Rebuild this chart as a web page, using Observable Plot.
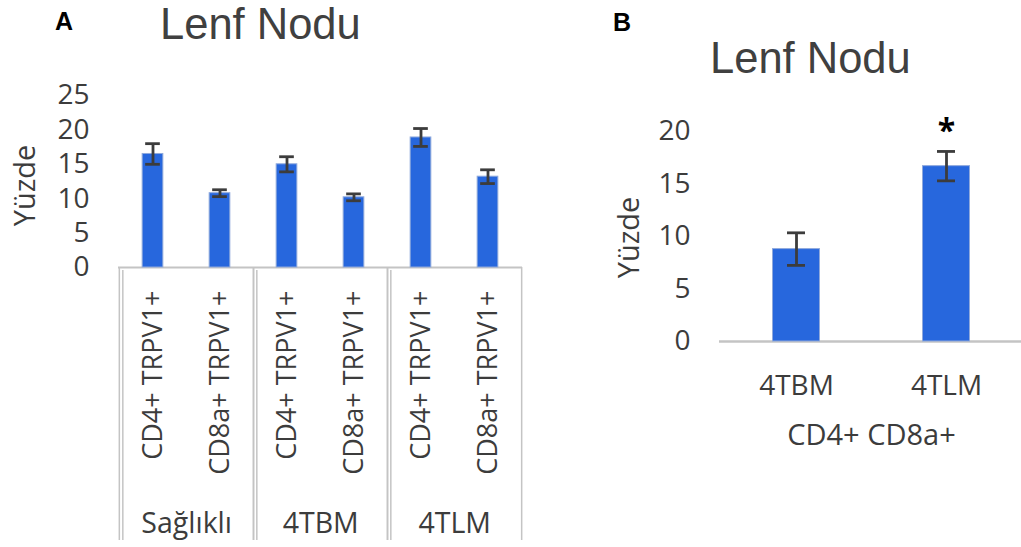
<!DOCTYPE html>
<html>
<head>
<meta charset="utf-8">
<script src="https://cdn.jsdelivr.net/npm/d3@7"></script>
<script src="https://cdn.jsdelivr.net/npm/@observablehq/plot@0.6"></script>
<style>
  body { margin: 0; background: #fff; }
  #wrap { position: relative; width: 1021px; height: 547px; overflow: hidden; background: #fff; font-family: "Open Sans", sans-serif; }
  .panel { position: absolute; top: 0; }
  .title { position: absolute; color: #404040; font-size: 43.5px; line-height: 1; white-space: nowrap; font-family: "Liberation Sans", Arial, sans-serif; }
  .letter { position: absolute; color: #000; font-size: 25px; line-height: 1; font-weight: bold; font-family: "Liberation Sans", Arial, sans-serif; }
</style>
</head>
<body>
<div id="wrap">
  <div class="letter" id="letterA" style="left:55px;top:9px;">A</div>
  <div class="letter" id="letterB" style="left:613px;top:10px;">B</div>
  <div class="title" id="titleA" style="left:160px;top:3px;">Lenf Nodu</div>
  <div class="title" id="titleB" style="left:710px;top:37px;">Lenf Nodu</div>
  <div class="panel" id="panelA" style="left:0px;"></div>
  <div class="panel" id="panelB" style="left:600px;"></div>
</div>
<script>
// ---------- Data: panel A ----------
const groupOrderA = ["Sağlıklı", "4TBM", "4TLM"];
const groupsA  = ["Sağlıklı", "Sağlıklı", "4TBM", "4TBM", "4TLM", "4TLM"];
const markersA = ["CD4+ TRPV1+", "CD8a+ TRPV1+", "CD4+ TRPV1+", "CD8a+ TRPV1+", "CD4+ TRPV1+", "CD8a+ TRPV1+"];
const valuesA  = [16.5, 10.8, 15.0, 10.2, 18.9, 13.2];
const errorsA  = [1.5, 0.5, 1.1, 0.5, 1.3, 1.0];
const ticksA   = [0, 5, 10, 15, 20, 25];

// ---------- Data: panel B ----------
const categoriesB = ["4TBM", "4TLM"];
const valuesB     = [8.8, 16.7];
const errorsB     = [1.55, 1.4];
const signifB     = ["", "*"];
const ticksB      = [0, 5, 10, 15, 20];

const yLabel = "Yüzde";
const xLabelB = "CD4+ CD8a+";

const TEXT = "#3c3c3c";
const BAR = "#2767dd";
const BAR_EDGE = "#8fa9dc";
const GRID = "#c4c4c4";
const FONT = "'Open Sans', sans-serif";

// ---------- Panel A ----------
const dataA = groupsA.map((g, i) => ({
  key: g + "|" + markersA[i], group: g, marker: markersA[i], value: valuesA[i], err: errorsA[i]
}));
const A = { width: 540, height: 547, ml: 118, mr: 18, mt: 95, mb: 280 };
const bandA = (A.width - A.ml - A.mr) / dataA.length;
const frameHA = A.height - A.mt - A.mb;
const firstKey = g => dataA.find(d => d.group === g).key;
const lastKey = g => dataA.filter(d => d.group === g).slice(-1)[0].key;
const boxBottomA = 273;
const barWA = 21, capWA = 15;

const plotA = Plot.plot({
  width: A.width, height: A.height,
  marginLeft: A.ml, marginRight: A.mr, marginTop: A.mt, marginBottom: A.mb,
  style: { fontFamily: FONT, color: TEXT, background: "transparent", overflow: "visible" },
  x: { domain: dataA.map(d => d.key), padding: 0 },
  y: { domain: [0, 25] },
  marks: [
    Plot.axisY({ ticks: ticksA, tickSize: 0, tickPadding: 29, fontSize: 28, label: null, fill: TEXT }),
    Plot.text([yLabel], { text: d => d, frameAnchor: "left", textAnchor: "middle", lineAnchor: "middle",
                          dx: -93, dy: 4, rotate: -90, fontSize: 29, fill: TEXT }),
    Plot.axisX({ tickFormat: k => k.split("|")[1], rotate: -90, textAnchor: "end", lineAnchor: "middle",
                 tickSize: 0, tickPadding: 23, fontSize: 27, label: null, fill: TEXT }),
    Plot.text(groupOrderA, { x: firstKey, text: d => d, frameAnchor: "bottom", dx: bandA / 2, dy: 256,
                             lineAnchor: "middle", fontSize: 28.5, fill: TEXT }),
    // group boxes
    Plot.ruleX(groupOrderA, { x: firstKey, dx: -bandA / 2, insetTop: frameHA, insetBottom: -boxBottomA, stroke: GRID, strokeWidth: 1.5 }),
    Plot.ruleX(groupOrderA, { x: firstKey, dx: -bandA / 2 + 3.5, insetTop: frameHA + 3, insetBottom: -boxBottomA, stroke: GRID, strokeWidth: 1.5 }),
    Plot.ruleX(groupOrderA, { x: lastKey, dx: bandA / 2, insetTop: frameHA, insetBottom: -boxBottomA, stroke: GRID, strokeWidth: 1.5 }),
    Plot.ruleY([0], { stroke: GRID, strokeWidth: 2 }),
    Plot.barY(dataA, { x: "key", y: "value", fill: BAR, stroke: BAR_EDGE, strokeWidth: 1,
                       insetLeft: (bandA - barWA) / 2, insetRight: (bandA - barWA) / 2 }),
    Plot.ruleX(dataA, { x: "key", y1: d => d.value - d.err, y2: d => d.value + d.err, stroke: TEXT, strokeWidth: 2.8 }),
    Plot.tickY(dataA, { x: "key", y: d => d.value + d.err, stroke: TEXT, strokeWidth: 2.8,
                        insetLeft: (bandA - capWA) / 2, insetRight: (bandA - capWA) / 2 }),
    Plot.tickY(dataA, { x: "key", y: d => d.value - d.err, stroke: TEXT, strokeWidth: 2.8,
                        insetLeft: (bandA - capWA) / 2, insetRight: (bandA - capWA) / 2 })
  ]
});
document.getElementById("panelA").appendChild(plotA);

// ---------- Panel B ----------
const dataB = categoriesB.map((c, i) => ({ cat: c, value: valuesB[i], err: errorsB[i], sig: signifB[i] }));
const B = { width: 421, height: 547, ml: 121, mr: 0, mt: 131, mb: 206 };
const bandB = (B.width - B.ml - B.mr) / dataB.length;
const barWB = 47, capWB = 18;

const plotB = Plot.plot({
  width: B.width, height: B.height,
  marginLeft: B.ml, marginRight: B.mr, marginTop: B.mt, marginBottom: B.mb,
  style: { fontFamily: FONT, color: TEXT, background: "transparent", overflow: "visible" },
  x: { domain: categoriesB, padding: 0 },
  y: { domain: [0, 20] },
  marks: [
    Plot.axisY({ ticks: ticksB, tickSize: 0, tickPadding: 31, fontSize: 28, label: null, fill: TEXT }),
    Plot.text([yLabel], { text: d => d, frameAnchor: "left", textAnchor: "middle", lineAnchor: "middle",
                          dx: -92, dy: 1, rotate: -90, fontSize: 29, fill: TEXT }),
    Plot.axisX({ tickSize: 0, tickPadding: 45, lineAnchor: "middle", fontSize: 28, label: null, fill: TEXT }),
    Plot.text([xLabelB], { text: d => d, frameAnchor: "bottom", dy: 94, lineAnchor: "middle", fontSize: 29, fill: TEXT }),
    Plot.ruleY([0], { stroke: GRID, strokeWidth: 2.5, insetLeft: -2 }),
    Plot.barY(dataB, { x: "cat", y: "value", fill: BAR, stroke: BAR_EDGE, strokeWidth: 1,
                       insetLeft: (bandB - barWB) / 2, insetRight: (bandB - barWB) / 2 }),
    Plot.ruleX(dataB, { x: "cat", y1: d => d.value - d.err, y2: d => d.value + d.err, stroke: TEXT, strokeWidth: 2.8 }),
    Plot.tickY(dataB, { x: "cat", y: d => d.value + d.err, stroke: TEXT, strokeWidth: 2.8,
                        insetLeft: (bandB - capWB) / 2, insetRight: (bandB - capWB) / 2 }),
    Plot.tickY(dataB, { x: "cat", y: d => d.value - d.err, stroke: TEXT, strokeWidth: 2.8,
                        insetLeft: (bandB - capWB) / 2, insetRight: (bandB - capWB) / 2 }),
    Plot.text(dataB, { x: "cat", y: d => d.value + d.err, text: "sig", dy: -20, lineAnchor: "middle",
                       fontSize: 32, fontWeight: "bold", fill: "#000" })
  ]
});
document.getElementById("panelB").appendChild(plotB);
</script>
</body>
</html>
